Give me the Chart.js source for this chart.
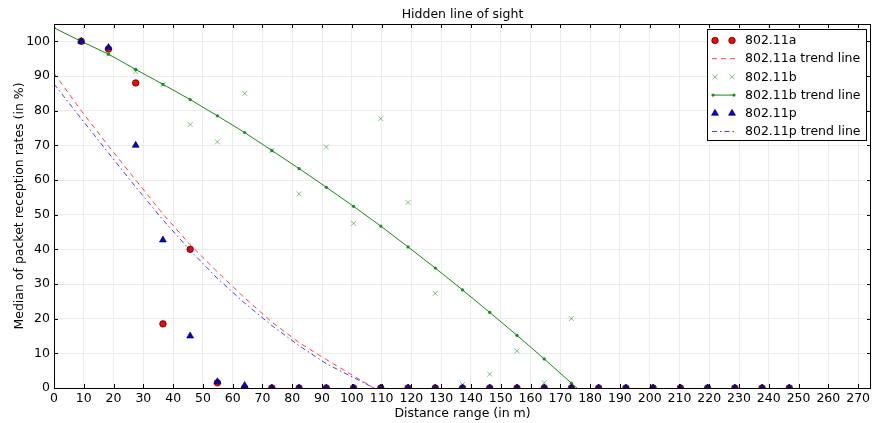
<!DOCTYPE html>
<html>
<head>
<meta charset="utf-8">
<script src="https://cdn.jsdelivr.net/npm/chart.js@4/dist/chart.umd.min.js"></script>
<style>
  body { margin: 0; background: #fff; }
  #chart { display: block; }
</style>
</head>
<body>
<canvas id="chart" width="872" height="423"></canvas>
<script>
// distances (m) where the measurements were taken
const distances = [9.144, 18.288, 27.432, 36.576, 45.72, 54.864, 64.008, 73.152, 82.296, 91.44,
  100.584, 109.728, 118.872, 128.016, 137.16, 146.304, 155.448, 164.592, 173.736, 182.88,
  192.024, 201.168, 210.312, 219.456, 228.6, 237.744, 246.888];

// medians of packet reception rates (%)
const rate80211a = [100, 97.8, 88, 18.5, 40, 1.5, 0, 0, 0, 0, 0, 0, 0, 0, 0, 0, 0, 0, 0, 0, 0, 0, 0, 0, 0, 0, 0];
const rate80211b = [100, 96.3, 91.3, 87.5, 76, 71, 85, 68.5, 56, 69.5, 47.5, 77.7, 53.5, 27.3, 1, 4, 10.7, 1.5, 20, 0, 0, 0, 0, 0, 0, 0, 0];
const rate80211p = [100, 98.2, 70, 42.7, 15, 1.8, 0.7, 0, 0, 0, 0, 0, 0, 0, 0, 0, 0, 0, 0, 0, 0, 0, 0, 0, 0, 0, 0];

// trend lines
const trendApX = [0, 9.144, 18.288, 27.432, 36.576, 45.72, 54.864, 64.008, 73.152, 82.296, 91.44, 100.584, 109.728];
const trend80211a = [90.8, 80.0, 69.8, 60.0, 50.2, 41.3, 33.5, 26.0, 19.0, 13.1, 8.2, 3.5, -1.2];
const trend80211p = [87.7, 77.7, 67.8, 58.0, 48.5, 39.7, 31.6, 24.5, 18.0, 12.2, 7.0, 3.0, -1.0];

const trendBX = [0, 9.144, 18.288, 27.432, 36.576, 45.72, 54.864, 64.008, 73.152, 82.296, 91.44,
  100.584, 109.728, 118.872, 128.016, 137.16, 146.304, 155.448, 164.592, 173.736, 182.88];
const trend80211b = [103.9, 100.0, 96.3, 91.9, 87.6, 83.2, 78.5, 73.7, 68.5, 63.3, 57.9,
  52.4, 46.7, 40.7, 34.6, 28.3, 21.8, 15.2, 8.4, 1.4, -5.6];

// axes
const xTicks = [0, 10, 20, 30, 40, 50, 60, 70, 80, 90, 100, 110, 120, 130, 140, 150, 160, 170, 180, 190, 200, 210, 220, 230, 240, 250, 260, 270];
const yTicks = [0, 10, 20, 30, 40, 50, 60, 70, 80, 90, 100];

const chartTitle = 'Hidden line of sight';

const FONT = 'DejaVu Sans';
Chart.defaults.font.family = FONT;
Chart.defaults.font.size = 12.5;
Chart.defaults.color = '#000';

function pts(xs, ys) {
  return xs.map((x, i) => ({ x: x, y: ys[i] }));
}

const RED = '#ff0000';
const GREEN = '#1a8a1a';
const GREEN_X = 'rgba(0,140,0,0.5)';
const BLUE = '#0000e0';

// legend entries (drawn by the plugin below)
const legendItems = [
  { label: '802.11a', kind: 'circle' },
  { label: '802.11a trend line', kind: 'dash' },
  { label: '802.11b', kind: 'x' },
  { label: '802.11b trend line', kind: 'lineDot' },
  { label: '802.11p', kind: 'tri' },
  { label: '802.11p trend line', kind: 'dashdot' }
];

function drawMarker(ctx, kind, x, y) {
  ctx.save();
  if (kind === 'circle') {
    ctx.beginPath();
    ctx.arc(x, y, 3.3, 0, Math.PI * 2);
    ctx.fillStyle = RED;
    ctx.fill();
    ctx.lineWidth = 0.6;
    ctx.strokeStyle = '#000';
    ctx.stroke();
  } else if (kind === 'tri') {
    const r = 4;
    ctx.beginPath();
    for (let k = 0; k < 3; k++) {
      const a = k * 2 * Math.PI / 3;
      const px = x + Math.sin(a) * r, py = y - Math.cos(a) * r;
      if (k === 0) ctx.moveTo(px, py); else ctx.lineTo(px, py);
    }
    ctx.closePath();
    ctx.fillStyle = BLUE;
    ctx.fill();
    ctx.lineWidth = 0.6;
    ctx.strokeStyle = '#000';
    ctx.stroke();
  } else if (kind === 'x') {
    const d = 2.5;
    ctx.beginPath();
    ctx.moveTo(x - d, y - d); ctx.lineTo(x + d, y + d);
    ctx.moveTo(x - d, y + d); ctx.lineTo(x + d, y - d);
    ctx.strokeStyle = GREEN_X;
    ctx.lineWidth = 1;
    ctx.stroke();
  } else if (kind === 'dot') {
    ctx.beginPath();
    ctx.arc(x, y, 1.6, 0, Math.PI * 2);
    ctx.fillStyle = GREEN;
    ctx.fill();
  }
  ctx.restore();
}

// no extra room around the scales: the plot box is fixed
function noPadding(s) {
  s.paddingLeft = s.paddingRight = s.paddingTop = s.paddingBottom = 0;
}

const framePlugin = {
  id: 'frame',
  afterDatasetsDraw(chart) {
    const { ctx, chartArea: a, scales } = chart;
    ctx.save();
    ctx.strokeStyle = '#000';
    ctx.lineWidth = 1;
    ctx.beginPath();
    xTicks.forEach(v => {
      const px = Math.round(scales.x.getPixelForValue(v)) + 0.5;
      ctx.moveTo(px, a.bottom); ctx.lineTo(px, a.bottom - 4);
      ctx.moveTo(px, a.top); ctx.lineTo(px, a.top + 4);
    });
    yTicks.forEach(v => {
      const py = Math.round(scales.y.getPixelForValue(v)) + 0.5;
      ctx.moveTo(a.left, py); ctx.lineTo(a.left + 4, py);
      ctx.moveTo(a.right, py); ctx.lineTo(a.right - 4, py);
    });
    ctx.stroke();
    ctx.strokeRect(Math.round(a.left) + 0.5, Math.round(a.top) + 0.5,
      Math.round(a.right - a.left) - 1, Math.round(a.bottom - a.top));

    // title, centred over the plot box
    ctx.font = '12.5px "' + FONT + '"';
    ctx.fillStyle = '#000';
    ctx.textAlign = 'center';
    ctx.textBaseline = 'middle';
    ctx.fillText(chartTitle, (a.left + a.right) / 2, 14.5);
    ctx.restore();
  },
  afterDraw(chart) {
    const ctx = chart.ctx;
    const bx = 707.5, by = 29.5, bw = 159, bh = 111;
    ctx.save();
    ctx.fillStyle = '#fff';
    ctx.fillRect(bx, by, bw, bh);
    ctx.strokeStyle = '#000';
    ctx.lineWidth = 1;
    ctx.strokeRect(bx, by, bw, bh);
    ctx.font = '12.5px "' + FONT + '"';
    ctx.fillStyle = '#000';
    ctx.textBaseline = 'middle';
    legendItems.forEach((it, i) => {
      const y = 40.5 + i * 18.2;
      const x1 = 715, x2 = 732;
      if (it.kind === 'circle' || it.kind === 'tri' || it.kind === 'x') {
        drawMarker(ctx, it.kind, x1, y);
        drawMarker(ctx, it.kind, x2, y);
      } else {
        ctx.save();
        ctx.beginPath();
        ctx.moveTo(712, y); ctx.lineTo(735, y);
        ctx.lineWidth = 1;
        if (it.kind === 'dash') {
          ctx.setLineDash([5, 4]);
          ctx.strokeStyle = 'rgba(255,0,0,0.75)';
        } else if (it.kind === 'dashdot') {
          ctx.setLineDash([5, 3, 1.5, 3]);
          ctx.strokeStyle = 'rgba(0,0,255,0.75)';
        } else {
          ctx.strokeStyle = GREEN;
        }
        ctx.stroke();
        ctx.restore();
        if (it.kind === 'lineDot') {
          drawMarker(ctx, 'dot', 713, y);
          drawMarker(ctx, 'dot', 734, y);
        }
      }
      ctx.fillStyle = '#000';
      ctx.fillText(it.label, 745, y + 0.5);
    });
    ctx.restore();
  }
};

const ctx = document.getElementById('chart').getContext('2d');
new Chart(ctx, {
  type: 'scatter',
  data: {
    datasets: [
      {
        label: '802.11a',
        data: pts(distances, rate80211a),
        showLine: false,
        pointStyle: 'circle',
        pointRadius: 3.3,
        backgroundColor: RED,
        borderColor: '#000',
        borderWidth: 0.6,
        clip: 0,
        order: 6
      },
      {
        label: '802.11a trend line',
        data: pts(trendApX, trend80211a),
        showLine: true,
        pointRadius: 0,
        borderColor: 'rgba(255,0,0,0.75)',
        borderWidth: 1,
        borderDash: [5, 4],
        clip: 0,
        order: 5
      },
      {
        label: '802.11b',
        data: pts(distances, rate80211b),
        showLine: false,
        pointStyle: 'crossRot',
        pointRadius: 3.5,
        borderColor: GREEN_X,
        backgroundColor: GREEN_X,
        borderWidth: 1,
        clip: 0,
        order: 4
      },
      {
        label: '802.11b trend line',
        data: pts(trendBX, trend80211b),
        showLine: true,
        pointStyle: 'circle',
        pointRadius: 1.6,
        pointBorderWidth: 0,
        backgroundColor: GREEN,
        borderColor: GREEN,
        borderWidth: 1,
        clip: 0,
        order: 3
      },
      {
        label: '802.11p',
        data: pts(distances, rate80211p),
        showLine: false,
        pointStyle: 'triangle',
        pointRadius: 4,
        backgroundColor: BLUE,
        borderColor: '#000',
        borderWidth: 0.6,
        clip: 0,
        order: 2
      },
      {
        label: '802.11p trend line',
        data: pts(trendApX, trend80211p),
        showLine: true,
        pointRadius: 0,
        borderColor: 'rgba(0,0,255,0.75)',
        borderWidth: 1,
        borderDash: [5, 3, 1.5, 3],
        clip: 0,
        order: 1
      }
    ]
  },
  options: {
    responsive: false,
    animation: false,
    devicePixelRatio: 1,
    layout: { autoPadding: false, padding: { left: 0, right: 1, top: 24, bottom: 0 } },
    plugins: {
      legend: { display: false },
      tooltip: { enabled: false },
      title: { display: false }
    },
    scales: {
      x: {
        type: 'linear',
        min: 0,
        max: 274.32,
        afterFit: s => { s.height = 35; noPadding(s); },
        afterBuildTicks: s => { s.ticks = xTicks.map(v => ({ value: v })); },
        grid: { color: '#ebebeb', lineWidth: 1, drawTicks: false },
        border: { display: false },
        ticks: { padding: 3, maxRotation: 0, autoSkip: false, color: '#000' },
        title: {
          display: true,
          text: 'Distance range (in m)',
          font: { size: 12.5 },
          color: '#000',
          padding: { top: 0, bottom: 1.5 }
        }
      },
      y: {
        type: 'linear',
        min: 0,
        max: 105,
        afterFit: s => { s.width = 54; noPadding(s); },
        afterBuildTicks: s => { s.ticks = yTicks.map(v => ({ value: v })); },
        grid: { color: '#ebebeb', lineWidth: 1, drawTicks: false },
        border: { display: false },
        ticks: { padding: 4, autoSkip: false, color: '#000' },
        title: {
          display: true,
          text: 'Median of packet reception rates (in %)',
          font: { size: 12.5 },
          color: '#000',
          padding: { top: 12.5, bottom: 0 }
        }
      }
    }
  },
  plugins: [framePlugin]
});
</script>
</body>
</html>
